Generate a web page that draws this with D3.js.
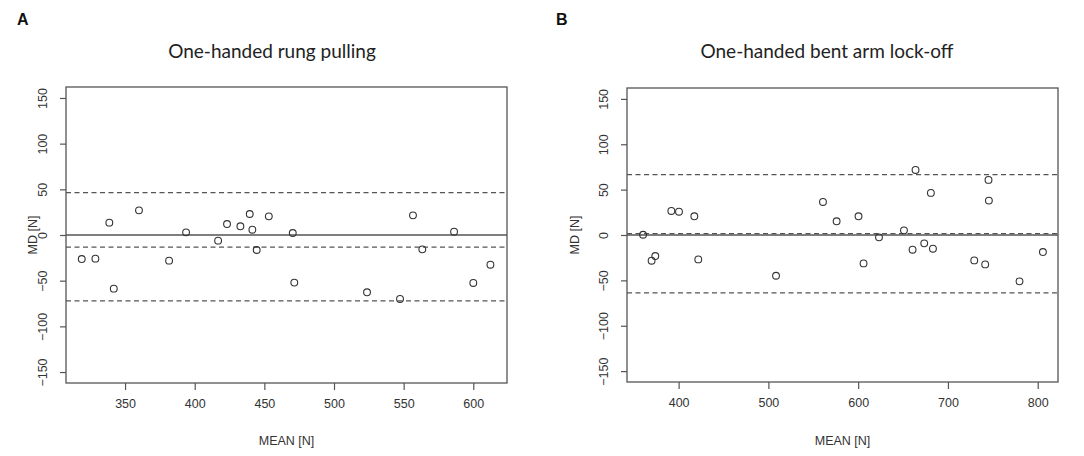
<!DOCTYPE html>
<html>
<head>
<meta charset="utf-8">
<script src="https://cdn.jsdelivr.net/npm/d3@7"></script>
<style>
  body { margin: 0; background: #fff; }
  svg { display: block; }
</style>
</head>
<body>
<script>
// Panel A: one-handed rung pulling
var meanA = [318.9, 328.7, 338.7, 360.0, 381.6, 393.8, 416.8, 423.2, 432.8, 439.5, 441.4, 444.5,
  453.2, 470.4, 556.7, 563.4, 586.2, 612.3, 341.9, 471.5, 523.7, 547.4, 600.0];
var mdA = [-26.3, -25.9, 13.5, 27.0, -28.1, 2.9, -6.2, 12.0, 9.5, 23.0, 5.8, -16.4,
  20.4, 2.2, 21.5, -15.7, 3.6, -32.5, -58.7, -52.1, -62.7, -70.0, -52.5];
var limitsA = [46.3, -13.3, -72.2]; // upper LoA, bias, lower LoA
var xTicksA = [350, 400, 450, 500, 550, 600];

// Panel B: one-handed bent arm lock-off
var meanB = [360.4, 369.9, 374.0, 391.9, 400.4, 417.5, 421.9, 508.5, 560.8, 576.0, 600.4, 606.0,
  623.2, 651.0, 660.6, 663.9, 673.6, 681.0, 683.3, 729.3, 741.5, 745.2, 745.6, 805.8, 779.7];
var mdB = [0.3, -28.3, -23.2, 26.5, 25.7, 20.6, -26.9, -44.9, 36.4, 15.1, 20.6, -31.3,
  -2.6, 5.1, -16.2, 71.7, -9.2, 46.4, -15.1, -28.0, -32.4, 60.7, 37.9, -18.8, -51.1];
var limitsB = [66.6, 1.5, -63.7];
var xTicksB = [400, 500, 600, 700, 800];

var yTicks = [-150, -100, -50, 0, 50, 100, 150];

var svg = d3.select("body").append("svg")
  .attr("width", 1084)
  .attr("height", 456);

var lineCol = "#555";
var textCol = "#333";
var arial = "'Liberation Sans', Arial, sans-serif";

function drawPanel(p) {
  var x = d3.scaleLinear().domain(p.xDomain).range([p.left, p.right]);
  var y = d3.scaleLinear().domain([-162, 162]).range([p.bottom, p.top]);

  var g = svg.append("g");

  // panel letter
  g.append("text")
    .attr("x", p.letterX).attr("y", 25)
    .attr("font-family", arial)
    .attr("font-weight", "bold").attr("font-size", 16)
    .attr("fill", "#111")
    .text(p.letter);

  // title
  g.append("text")
    .attr("x", p.titleX).attr("y", 58)
    .attr("text-anchor", "middle")
    .attr("font-family", "Lato, sans-serif")
    .attr("font-size", 19)
    .attr("fill", "#222")
    .text(p.title);

  // limit lines
  g.selectAll("line.lim")
    .data(p.limits)
    .enter().append("line")
    .attr("class", "lim")
    .attr("x1", p.left).attr("x2", p.right)
    .attr("y1", function(d) { return y(d); })
    .attr("y2", function(d) { return y(d); })
    .attr("stroke", lineCol).attr("stroke-width", 1.3)
    .attr("stroke-dasharray", "5,3.5");

  // zero line
  g.append("line")
    .attr("x1", p.left).attr("x2", p.right)
    .attr("y1", y(0)).attr("y2", y(0))
    .attr("stroke", lineCol).attr("stroke-width", 1.3);

  // points
  var pts = p.xs.map(function(v, i) { return {x: v, y: p.ys[i]}; });
  g.selectAll("circle")
    .data(pts)
    .enter().append("circle")
    .attr("cx", function(d) { return x(d.x); })
    .attr("cy", function(d) { return y(d.y); })
    .attr("r", 3.4)
    .attr("fill", "none")
    .attr("stroke", "#333").attr("stroke-width", 1.1);

  // box
  g.append("rect")
    .attr("x", p.left).attr("y", p.top)
    .attr("width", p.right - p.left).attr("height", p.bottom - p.top)
    .attr("fill", "none").attr("stroke", lineCol).attr("stroke-width", 1.3);

  // x axis
  var xAxis = g.append("g")
    .attr("transform", "translate(0," + p.bottom + ")")
    .call(d3.axisBottom(x).tickValues(p.xTicks).tickSize(7).tickPadding(9).tickFormat(d3.format("d")));
  xAxis.select(".domain").remove();
  xAxis.selectAll("line").attr("stroke", lineCol).attr("stroke-width", 1.2);
  xAxis.selectAll("text")
    .attr("font-family", arial)
    .attr("font-size", 12.5).attr("fill", textCol);

  // y axis
  var yAxis = g.append("g")
    .attr("transform", "translate(" + p.left + ",0)")
    .call(d3.axisLeft(y).tickValues(yTicks).tickSize(6).tickFormat(d3.format("d")));
  yAxis.select(".domain").remove();
  yAxis.selectAll("line").attr("stroke", lineCol).attr("stroke-width", 1.2);
  yAxis.selectAll("text")
    .attr("font-family", arial)
    .attr("font-size", 12.5).attr("fill", textCol)
    .attr("x", null).attr("dy", "0.35em")
    .attr("text-anchor", "middle")
    .attr("transform", "translate(-23,0) rotate(-90)")
    .attr("y", 0);

  // axis titles
  g.append("text")
    .attr("x", (p.left + p.right) / 2).attr("y", 445)
    .attr("text-anchor", "middle")
    .attr("font-family", arial)
    .attr("font-size", 12.5).attr("fill", textCol)
    .text("MEAN [N]");

  g.append("text")
    .attr("transform", "translate(" + p.yLabX + "," + y(0) + ") rotate(-90)")
    .attr("text-anchor", "middle")
    .attr("dy", "0.35em")
    .attr("font-family", arial)
    .attr("font-size", 12.5).attr("fill", textCol)
    .text("MD [N]");
}

drawPanel({
  letter: "A", letterX: 17, title: "One-handed rung pulling", titleX: 272,
  left: 66, right: 507, top: 87, bottom: 383,
  xDomain: [307.6, 624.2], xTicks: xTicksA,
  xs: meanA, ys: mdA, limits: limitsA, yLabX: 33
});

drawPanel({
  letter: "B", letterX: 556, title: "One-handed bent arm lock-off", titleX: 827,
  left: 627, right: 1058, top: 88, bottom: 382,
  xDomain: [342.5, 822.6], xTicks: xTicksB,
  xs: meanB, ys: mdB, limits: limitsB, yLabX: 575
});
</script>
</body>
</html>
